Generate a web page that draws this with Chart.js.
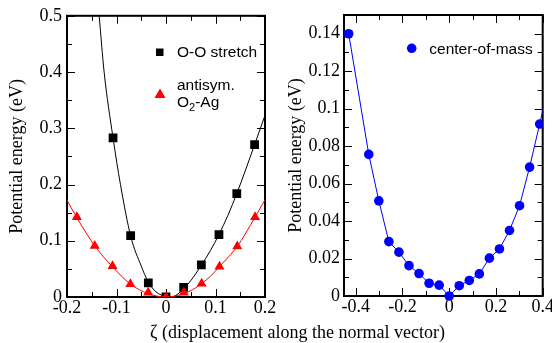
<!DOCTYPE html>
<html>
<head>
<meta charset="utf-8">
<script src="https://cdn.jsdelivr.net/npm/chart.js@4.4.1/dist/chart.umd.min.js"></script>
<style>
  html, body { margin: 0; padding: 0; background: #fff; width: 552px; height: 343px; overflow: hidden; position: relative; }
  .panel { position: absolute; top: 0; height: 343px; }
  #panelLeft { left: 0; width: 280px; }
  #panelRight { left: 276px; width: 300px; }
  #xTitle {
    position: absolute; left: 0; top: 322px; width: 595px; text-align: center;
    font: 18px/20px 'Liberation Serif', 'Times New Roman', serif; color: #000; white-space: nowrap;
  }
</style>
</head>
<body>
<div class="panel" id="panelLeft"><canvas id="chartLeft" width="280" height="343"></canvas></div>
<div class="panel" id="panelRight"><canvas id="chartRight" width="300" height="343"></canvas></div>
<div id="xTitle">ζ (displacement along the normal vector)</div>

<script>
// ═══════════ DATA ═══════════
// O-O stretch: computed points and fitted curve
const stretchZeta = [-0.107, -0.0714, -0.0357, 0, 0.0357, 0.0714, 0.107, 0.143, 0.179];
const stretchE    = [0.283, 0.109, 0.025, 0, 0.017, 0.057, 0.111, 0.184, 0.271];
const stretchFitZeta = [-0.135, -0.125, -0.107, -0.092, -0.071, -0.05, -0.036, -0.02, 0, 0.01, 0.02, 0.036, 0.05, 0.071, 0.09, 0.107, 0.125, 0.143, 0.16, 0.179, 0.2];
const stretchFitE    = [0.5, 0.4, 0.283, 0.2, 0.107, 0.055, 0.027, 0.009, 0.001, 0, 0.003, 0.015, 0.029, 0.056, 0.083, 0.111, 0.145, 0.184, 0.224, 0.271, 0.323];

// antisym. O2-Ag: computed points and fitted curve
const antiZeta = [-0.18, -0.144, -0.108, -0.072, -0.036, 0, 0.036, 0.072, 0.108, 0.144, 0.18];
const antiE    = [0.142, 0.091, 0.055, 0.023, 0.008, 0, 0.008, 0.024, 0.054, 0.090, 0.142];
const antiFitZeta = [-0.2, -0.18, -0.16, -0.144, -0.126, -0.108, -0.09, -0.072, -0.054, -0.036, -0.018, 0, 0.018, 0.036, 0.054, 0.072, 0.09, 0.108, 0.126, 0.144, 0.16, 0.18, 0.2];
const antiFitE    = [0.172, 0.141, 0.112, 0.091, 0.071, 0.054, 0.037, 0.023, 0.013, 0.006, 0.0015, 0, 0.0015, 0.006, 0.013, 0.024, 0.037, 0.054, 0.071, 0.090, 0.112, 0.142, 0.173];

// center-of-mass displacement
const comZeta = [-0.43, -0.344, -0.301, -0.258, -0.215, -0.172, -0.129, -0.086, -0.043, 0, 0.043, 0.086, 0.129, 0.172, 0.215, 0.258, 0.301, 0.344, 0.387, 0.43];
const comE    = [0.140, 0.0756, 0.0508, 0.029, 0.0234, 0.0162, 0.012, 0.0068, 0.0058, 0, 0.0055, 0.0083, 0.0118, 0.0202, 0.0251, 0.035, 0.0482, 0.0688, 0.0918, 0.115];

// axis ticks
const leftXTicks  = [-0.2, -0.1, 0, 0.1, 0.2];
const leftXMinor  = [-0.15, -0.05, 0.05, 0.15];
const leftYTicks  = [0, 0.1, 0.2, 0.3, 0.4, 0.5];
const leftYMinor  = [0.05, 0.15, 0.25, 0.35, 0.45];
const rightXTicks = [-0.4, -0.2, 0, 0.2, 0.4];
const rightXMinor = [-0.3, -0.1, 0.1, 0.3];
const rightYTicks = [0, 0.02, 0.04, 0.06, 0.08, 0.1, 0.12, 0.14];
const rightYMinor = [0.01, 0.03, 0.05, 0.07, 0.09, 0.11, 0.13, 0.15];

// ═══════════ HELPERS ═══════════
const SERIF = "'Liberation Serif', 'Times New Roman', serif";
const SANS = "'Liberation Sans', Arial, sans-serif";
const pts = (xs, ys) => xs.map((x, i) => ({ x, y: ys[i] }));
const fmt = v => String(+(+v).toFixed(3));

function axis(min, max, ticks, pad, size, isX, title) {
  const cfg = {
    type: 'linear', min, max,
    grid: { display: false, drawTicks: false },
    border: { display: false },
    ticks: { font: { family: SERIF, size: 18 }, color: '#000', padding: pad, autoSkip: false, maxRotation: 0, callback: fmt },
    afterBuildTicks: s => { s.ticks = ticks.map(v => ({ value: v })); },
    afterFit: s => { if (isX) s.height = size; else s.width = size; }
  };
  if (title) cfg.title = { display: true, text: title.text, font: { family: SERIF, size: 18 }, color: '#000', padding: { top: title.pad, bottom: 0 } };
  return cfg;
}

// frame + inward ticks on all four sides
function frame(minorX, minorY) {
  return {
    id: 'frame',
    beforeDatasetsDraw(chart) {
      const { ctx, chartArea: a, scales: { x, y } } = chart;
      const px = v => Math.round(x.getPixelForValue(v)) + 0.5;
      const py = v => Math.round(y.getPixelForValue(v)) + 0.5;
      ctx.save();
      ctx.strokeStyle = '#000';
      ctx.lineWidth = 1;
      ctx.beginPath();
      const tickX = (vals, len) => vals.forEach(v => {
        const p = px(v);
        ctx.moveTo(p, a.bottom); ctx.lineTo(p, a.bottom - len);
        ctx.moveTo(p, a.top); ctx.lineTo(p, a.top + len);
      });
      const tickY = (vals, len) => vals.forEach(v => {
        const p = py(v);
        ctx.moveTo(a.left, p); ctx.lineTo(a.left + len, p);
        ctx.moveTo(a.right, p); ctx.lineTo(a.right - len, p);
      });
      tickX(x.ticks.map(t => t.value), 8);
      tickY(y.ticks.map(t => t.value), 8);
      tickX(minorX, 5);
      tickY(minorY, 5);
      ctx.stroke();
      ctx.lineWidth = 2;
      ctx.strokeRect(a.left, a.top, a.right - a.left, a.bottom - a.top);
      ctx.restore();
    }
  };
}

const legendLeft = {
  id: 'legendLeft',
  afterDraw(chart) {
    const ctx = chart.ctx;
    ctx.save();
    ctx.fillStyle = '#000';
    ctx.fillRect(156, 48.5, 7.5, 7.5);
    ctx.fillStyle = '#ff0000';
    ctx.beginPath();
    ctx.moveTo(160, 88.5); ctx.lineTo(165.5, 98); ctx.lineTo(154.5, 98);
    ctx.closePath(); ctx.fill();

    ctx.fillStyle = '#000';
    ctx.textBaseline = 'alphabetic';
    ctx.font = `15.5px ${SANS}`;
    ctx.fillText('O-O stretch', 177, 56.5);
    ctx.fillText('antisym.', 177, 90);
    let x = 177;
    ctx.fillText('O', x, 107);
    x += ctx.measureText('O').width;
    ctx.font = `11px ${SANS}`;
    ctx.fillText('2', x, 111);
    x += ctx.measureText('2').width;
    ctx.font = `15.5px ${SANS}`;
    ctx.fillText('-Ag', x, 107);
    ctx.restore();
  }
};

const legendRight = {
  id: 'legendRight',
  afterDraw(chart) {
    const ctx = chart.ctx;
    ctx.save();
    ctx.fillStyle = '#0000ff';
    ctx.beginPath();
    ctx.arc(411.7 - 276, 48.3, 4.8, 0, Math.PI * 2);
    ctx.fill();
    ctx.fillStyle = '#000';
    ctx.font = `15.5px ${SANS}`;
    ctx.fillText('center-of-mass', 429.3 - 276, 53.5);
    ctx.restore();
  }
};

const baseOpts = {
  responsive: false,
  animation: false,
  events: [],
  plugins: { legend: { display: false }, tooltip: { enabled: false } }
};

// ═══════════ LEFT: O-O stretch / antisym. O2-Ag ═══════════
new Chart(document.getElementById('chartLeft'), {
  type: 'line',
  data: {
    datasets: [
      { data: pts(antiZeta, antiE), showLine: false, pointStyle: 'triangle', pointRadius: 5.8, pointBorderWidth: 0, backgroundColor: '#ff0000', borderColor: '#ff0000', order: 1 },
      { data: pts(antiFitZeta, antiFitE), borderColor: '#ff0000', borderWidth: 1, pointRadius: 0, cubicInterpolationMode: 'monotone', order: 2 },
      { data: pts(stretchZeta, stretchE), showLine: false, pointStyle: 'rect', pointRadius: 6.2, pointBorderWidth: 0, backgroundColor: '#000', borderColor: '#000', order: 3 },
      { data: pts(stretchFitZeta, stretchFitE), borderColor: '#000', borderWidth: 1, pointRadius: 0, cubicInterpolationMode: 'monotone', order: 4 }
    ]
  },
  options: {
    ...baseOpts,
    layout: { padding: { top: 15, right: 15, bottom: 16, left: 0 } },
    scales: {
      x: axis(-0.2, 0.2, leftXTicks, 0, 30, true),
      y: axis(0, 0.5, leftYTicks, 5, 67, false, { text: 'Potential energy (eV)', pad: 6 })
    }
  },
  plugins: [frame(leftXMinor, leftYMinor), legendLeft]
});

// ═══════════ RIGHT: center-of-mass ═══════════
new Chart(document.getElementById('chartRight'), {
  type: 'line',
  data: {
    datasets: [
      {
        data: pts(comZeta, comE),
        borderColor: '#0000ff', borderWidth: 1, backgroundColor: '#0000ff',
        pointRadius: 4.8, pointBorderWidth: 0, tension: 0,
        clip: { left: 8, top: 8, right: 0, bottom: 8 }
      }
    ]
  },
  options: {
    ...baseOpts,
    layout: { padding: { top: 15, right: 33.3, bottom: 17, left: 0 } },
    scales: {
      x: axis(-0.45, 0.4, rightXTicks, 0, 30, true),
      y: axis(0, 0.15, rightYTicks, 4, 68, false, { text: 'Potential energy (eV)', pad: 9 })
    }
  },
  plugins: [frame(rightXMinor, rightYMinor), legendRight]
});
</script>
</body>
</html>
